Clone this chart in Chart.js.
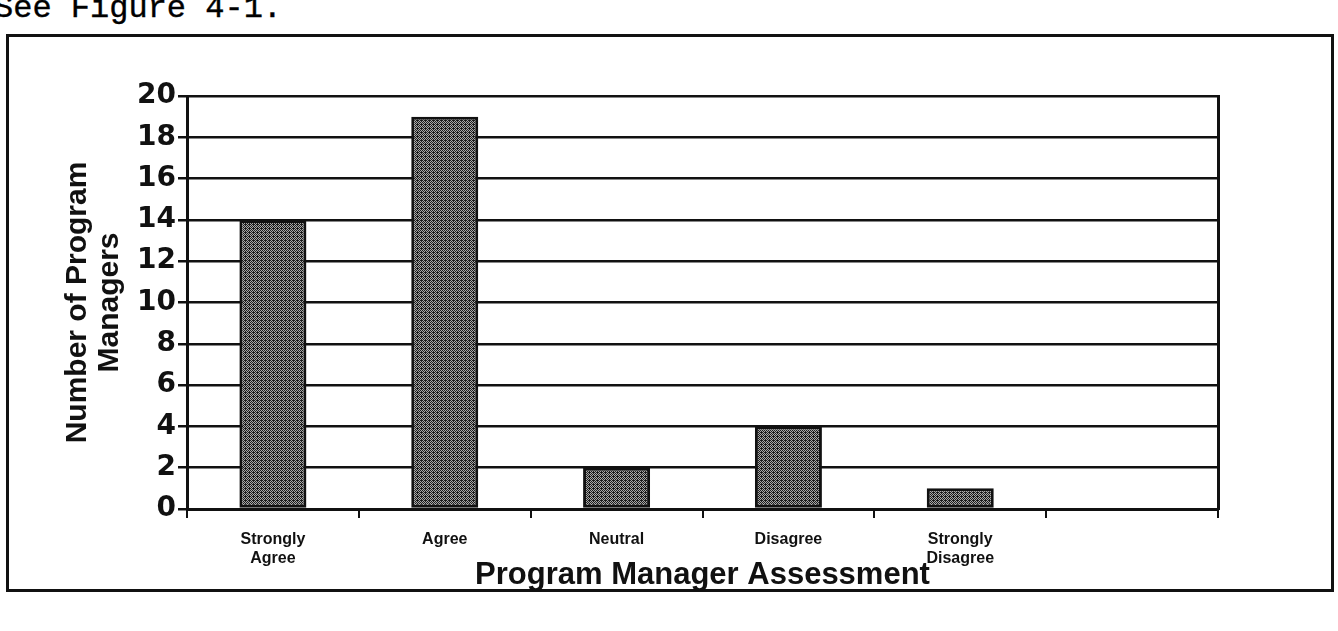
<!DOCTYPE html>
<html lang="en">
<head>
    <meta charset="UTF-8">
    <title>Program Manager Assessment</title>
    <script src="https://cdn.jsdelivr.net/npm/chart.js"></script>
    <style>
        body { margin: 0; background: #fff; }
        #page { position: relative; width: 1338px; height: 631px; overflow: hidden; }
        #caption { position: absolute; left: -6px; top: -10px; font: 32px "Liberation Mono", monospace; color: #000; white-space: nowrap; -webkit-text-stroke: 0.4px #000; }
        #box { position: absolute; left: 6px; top: 34px; width: 1322px; height: 552px; border: 3px solid #111; }
        #wrap { position: absolute; left: 0; top: 0; width: 1338px; height: 631px; }
    </style>
</head>
<body>
<div id="page">
    <div id="caption">See Figure 4-1.</div>
    <div id="box"></div>
    <div id="wrap"><canvas id="assessChart"></canvas></div>
</div>

<script>
    // answers per category (last slot is empty on the original)
    const categories = [['Strongly', 'Agree'], 'Agree', 'Neutral', 'Disagree', ['Strongly', 'Disagree'], ''];
    const managers = [14, 19, 2, 4, 1, null];
    const yTicks = [0, 2, 4, 6, 8, 10, 12, 14, 16, 18, 20];

    // stippled grey fill like the printed bars
    function stipple() {
        const c = document.createElement('canvas');
        c.width = 4; c.height = 4;
        const g = c.getContext('2d');
        g.fillStyle = '#a8a8a8';
        g.fillRect(0, 0, 4, 4);
        g.fillStyle = '#1c1c1c';
        [[0,0],[1,1],[2,2],[3,3],[2,0],[3,1],[0,2],[1,3],[1,0]].forEach(p => g.fillRect(p[0], p[1], 1, 1));
        return g.createPattern(c, 'repeat');
    }

    const ink = '#111';
    const ctx = document.getElementById('assessChart').getContext('2d');
    new Chart(ctx, {
        type: 'bar',
        data: {
            labels: categories,
            datasets: [{
                data: managers,
                backgroundColor: stipple(),
                borderColor: ink,
                borderWidth: 3,
                borderSkipped: false,
                barPercentage: 0.39,
                categoryPercentage: 1
            }]
        },
        options: {
            responsive: true,
            maintainAspectRatio: false,
            animation: false,
            layout: { padding: { left: 62, top: 96, right: 120, bottom: 31 } },
            plugins: { legend: { display: false }, tooltip: { enabled: false } },
            scales: {
                x: {
                    grid: { display: true, drawOnChartArea: false, color: ink, lineWidth: 2, tickLength: 9 },
                    border: { display: true, color: ink, width: 3 },
                    ticks: { color: ink, padding: 12, font: { family: 'Liberation Sans', size: 16, weight: 'bold', lineHeight: 1.2 } },
                    title: { display: true, text: 'Program Manager Assessment', color: ink, padding: { top: 0, bottom: 6 },
                             font: { family: 'Liberation Sans', size: 31, weight: 'bold' } },
                    afterFit: s => { s.height = 91; }
                },
                y: {
                    min: 0, max: 20,
                    afterBuildTicks: s => { s.ticks = yTicks.map(v => ({ value: v })); },
                    grid: { color: ink, lineWidth: 2.5, tickLength: 9 },
                    border: { display: true, color: ink, width: 3 },
                    ticks: { color: ink, padding: 2, font: { family: 'DejaVu Sans', size: 28, weight: 'bold' } },
                    title: { display: true, text: ['Number of Program', 'Managers'], color: ink, padding: { top: 0, bottom: 0 },
                             font: { family: 'Liberation Sans', size: 30, weight: 'bold', lineHeight: 1.05 } },
                    afterFit: s => { s.width = 125; }
                },
                y2: {
                    position: 'right',
                    min: 0, max: 20,
                    ticks: { display: false },
                    grid: { drawOnChartArea: false, drawTicks: false },
                    border: { display: true, color: ink, width: 3 },
                    afterFit: s => { s.width = 0; }
                }
            }
        }
    });
</script>
</body>
</html>
